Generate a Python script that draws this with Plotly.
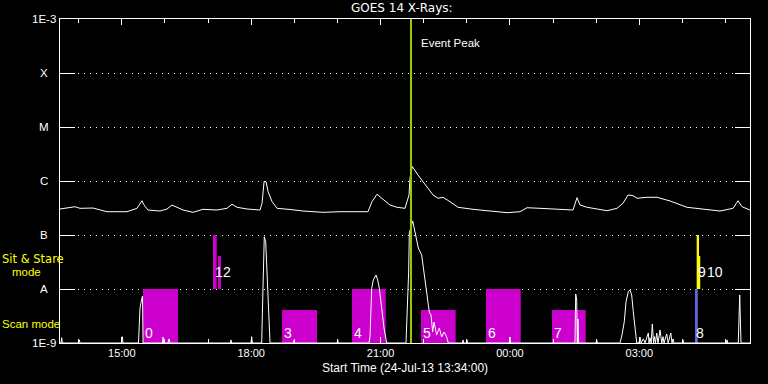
import math
import pandas as pd
import plotly.graph_objects as go

START = pd.Timestamp("2013-07-24 13:34:00")
SPAN_MIN = 960  # 16 hours shown

# ---- GOES 14 long channel (1-8 A), minutes after start, W/m^2
long_t = [0, 13.9, 20.9, 27.8, 45.9, 65.4, 93.2, 107.1, 111.3, 114.1, 116.9, 122.4,
          139.1, 148.9, 155.8, 162.8, 171.1, 185.0, 199.0, 218.4, 232.4, 239.3, 246.3,
          260.2, 278.3, 281.1, 283.9, 286.7, 289.5, 295.1, 302.0, 320.0, 338.2, 365.9,
          389.6, 428.5, 434.1, 441.0, 448.0, 459.1, 468.9, 480.0, 482.8, 485.6, 487.0,
          490.2, 498.1, 510.6, 519.0, 525.9, 532.9, 542.6, 553.7, 574.6, 598.3, 621.9,
          640.0, 649.7, 667.8, 691.5, 713.8, 719.3, 723.5, 733.3, 761.0, 774.9, 783.3,
          790.3, 797.2, 802.8, 816.7, 830.6, 848.7, 872.3, 894.6, 918.3, 936.4, 943.3,
          948.9, 960]
long_f = [3.03e-7, 3.26e-7, 3.34e-7, 3.12e-7, 3.16e-7, 2.70e-7, 2.70e-7, 3.12e-7, 3.86e-7,
          4.31e-7, 3.59e-7, 2.90e-7, 2.78e-7, 3.03e-7, 3.59e-7, 3.26e-7, 2.90e-7, 2.63e-7,
          2.99e-7, 2.90e-7, 3.12e-7, 3.71e-7, 3.26e-7, 3.03e-7, 2.90e-7, 3.86e-7, 9.7e-7,
          9.7e-7, 6.34e-7, 4.14e-7, 3.12e-7, 2.97e-7, 2.78e-7, 2.63e-7, 2.70e-7, 2.70e-7,
          4.14e-7, 5.68e-7, 4.79e-7, 3.59e-7, 3.26e-7, 3.12e-7, 4.14e-7, 5.51e-7, 1.14e-6,
          1.85e-6, 1.29e-6, 7.83e-7, 5.51e-7, 4.79e-7, 4.99e-7, 4.14e-7, 3.26e-7, 2.99e-7,
          2.82e-7, 2.59e-7, 2.70e-7, 3.20e-7, 3.12e-7, 3.03e-7, 2.90e-7, 4.91e-7, 3.59e-7,
          3.26e-7, 2.82e-7, 3.12e-7, 3.86e-7, 5.51e-7, 5.35e-7, 4.79e-7, 4.99e-7, 4.99e-7,
          4.27e-7, 3.26e-7, 3.03e-7, 2.78e-7, 3.12e-7, 4.31e-7, 3.34e-7, 2.90e-7]

# ---- GOES 14 short channel (0.5-4 A), minutes after start, W/m^2
short_t = [0, 1.5, 2.4, 3.3,
           26.0, 26.9, 27.8,
           85.8, 86.7, 87.6,
           109.2, 110.3, 111.3, 113.4, 114.8, 115.5,
           142.5, 143.3, 144.2, 150.3, 151.7, 153.0,
           237.0, 237.9, 238.8,
           265.8, 266.7, 267.6,
           280.6, 281.5, 282.9, 284.2, 286.2, 287.6, 289.0, 290.4, 292.2,
           324.7, 325.6, 326.5,
           385.5, 386.4, 387.3,
           429.9, 431.3, 433.7, 435.9, 439.7, 442.0, 444.2, 447.6, 450.8, 454.5,
           481.4, 483.2, 485.1, 486.0, 490.7, 493.9, 498.5, 503.2, 507.8, 511.0,
           513.8, 516.2, 518.5, 520.4, 524.1, 527.7, 531.1, 534.3, 538.0, 540.2,
           559.8, 560.7, 561.6, 565.4, 566.3, 567.2,
           625.2, 626.1, 627.0,
           716.5, 717.5, 718.9, 719.7, 720.7, 721.7,
           745.8, 746.7, 747.6,
           779.1, 781.9, 785.1, 787.5, 790.7, 793.0, 795.4, 797.6, 800.0, 802.4,
           805.6, 807.0, 808.4, 811.6, 814.0, 818.5, 819.5, 820.9, 822.5, 824.1,
           825.8, 826.9, 828.5, 830.2, 832.0, 834.8, 837.2, 839.0, 840.4, 844.1,
           846.1, 849.8, 851.5, 852.9, 854.3,
           865.9, 866.8, 867.7,
           927.1, 928.0, 928.9,
           943.7, 944.7, 945.7, 946.5, 947.5, 960]
short_f = [1e-9, 1e-9, 1.25e-9, 1e-9,
           1e-9, 1.14e-9, 1e-9,
           1e-9, 1.31e-9, 1e-9,
           1e-9, 3.3e-9, 4.45e-9, 6.25e-9, 7.42e-9, 1e-9,
           1e-9, 1.29e-9, 1e-9, 1e-9, 1.19e-9, 1e-9,
           1e-9, 1.14e-9, 1e-9,
           1e-9, 1.31e-9, 1e-9,
           1e-9, 3.3e-9, 4.26e-8, 9.3e-8, 7.5e-8, 2.78e-8, 1.04e-8, 3.3e-9, 1e-9,
           1e-9, 1.14e-9, 1e-9,
           1e-9, 1.14e-9, 1e-9,
           1e-9, 1.31e-9, 1.04e-8, 1.47e-8, 1.82e-8, 1.47e-8, 1.04e-8, 4.45e-9, 1.9e-9, 1e-9,
           1e-9, 4.45e-9, 2.06e-8, 1.09e-7, 1.82e-7, 1.14e-7, 5.74e-8, 4.26e-8, 1.6e-8, 7.74e-9,
           3.75e-9, 3.3e-9, 1.6e-9, 2.45e-9, 1.41e-9, 1.9e-9, 1.29e-9, 1.6e-9, 1.29e-9, 1e-9,
           1e-9, 1.14e-9, 1e-9, 1e-9, 1.14e-9, 1e-9,
           1e-9, 1.29e-9, 1e-9,
           1e-9, 8.08e-9, 6.25e-9, 1e-9, 2.78e-9, 1e-9,
           1e-9, 1.14e-9, 1e-9,
           1e-9, 1.41e-9, 2.48e-9, 5.82e-9, 8.91e-9, 9.58e-9, 7.74e-9, 3.8e-9, 1.9e-9, 1e-9,
           1e-9, 1.29e-9, 1e-9, 1.19e-9, 1e-9, 1.53e-9, 1e-9, 1.25e-9, 1e-9, 2.25e-9,
           1e-9, 1.31e-9, 1e-9, 1.53e-9, 1e-9, 1.74e-9, 1e-9, 1.31e-9, 1e-9, 1.47e-9,
           1e-9, 1.53e-9, 1e-9, 1.19e-9, 1e-9,
           1e-9, 1.14e-9, 1e-9,
           1e-9, 1.14e-9, 1e-9,
           1e-9, 2.9e-9, 7.74e-9, 2.9e-9, 1e-9, 1e-9]

# ---- observation blocks (minutes after start)
obs_label = ["0", "1", "2", "3", "4", "5", "6", "7", "8", "9", "10"]
obs_start = [115.5, 212.9, 219.8, 308.9, 406.3, 502.3, 592.7, 684.5, 883.5, 885.8, 888.8]
obs_end = [164.2, 218.0, 224.0, 357.6, 453.2, 550.5, 641.0, 731.4, 887.3, 889.0, 890.8]
obs_low = [1e-9, 1e-8, 1e-8, 1e-9, 1e-9, 1e-9, 1e-9, 1e-9, 1e-9, 1e-8, 1e-8]
obs_high = [1e-8, 1e-7, 4.08e-8, 4.08e-9, 1e-8, 4.08e-9, 1e-8, 4.08e-9, 1e-8, 1e-7, 4.08e-8]
obs_mode = ["scan", "sit", "sit", "scan", "scan", "scan", "scan", "scan", "scan", "sit", "sit"]
obs_color = ["#cc00cc"] * 8 + ["#6464e6", "#ffff00", "#ffff00"]
label_shift = [1, 1, 4, 1, 1, 1, 1, 1, 0, 0, 7]

event_peak_min = 488.3

y_ticks = [1e-9, 1e-8, 1e-7, 1e-6, 1e-5, 1e-4, 1e-3]
y_tick_text = ["1E-9", "A", "B", "C", "M", "X", "1E-3"]


def tm(m):
    return START + pd.to_timedelta(m, unit="min")


FONT = "Liberation Sans, Arial, sans-serif"
fig = go.Figure()

# observation blocks
for s, e, lo, hi, c in zip(obs_start, obs_end, obs_low, obs_high, obs_color):
    fig.add_trace(go.Scatter(
        x=[tm(s), tm(e), tm(e), tm(s), tm(s)], y=[lo, lo, hi, hi, lo],
        fill="toself", fillcolor=c, line=dict(width=0, color=c), mode="lines",
        hoverinfo="skip", showlegend=False))

# x-ray curves
fig.add_trace(go.Scatter(x=[tm(m) for m in long_t], y=long_f, mode="lines",
                         line=dict(color="white", width=1), showlegend=False))
fig.add_trace(go.Scatter(x=[tm(m) for m in short_t], y=short_f, mode="lines",
                         line=dict(color="white", width=1), showlegend=False))

# event peak line
fig.add_trace(go.Scatter(x=[tm(event_peak_min), tm(event_peak_min)], y=[1e-9, 1e-3],
                         mode="lines", line=dict(color="#99cc00", width=2), showlegend=False))

ann = []
# obs labels
for lab, s, mode, sh in zip(obs_label, obs_start, obs_mode, label_shift):
    ann.append(dict(x=tm(s), xref="x", y=0.0324 if mode == "scan" else 0.2176, yref="paper",
                    text=lab, showarrow=False, xanchor="left", yanchor="middle", xshift=sh,
                    borderpad=0, font=dict(family=FONT, size=14, color="white")))
# y labels
for v, t in zip(y_ticks, y_tick_text):
    ann.append(dict(x=0, xref="paper", y=math.log10(v), yref="y", text=t, showarrow=False,
                    xanchor="center", yanchor="middle", xshift=-16,
                    font=dict(family=FONT, size=11.5, color="white")))
YEL = dict(family=FONT, size=11.5, color="#ffff00")
ann += [
    dict(x=0.5, xref="paper", y=(343 - 8.5) / 324, yref="paper", text="GOES 14 X-Rays:",
         showarrow=False, xanchor="center", yanchor="middle", xshift=-3,
         font=dict(family="DejaVu Sans", size=12, color="white")),
    dict(x=0.5, xref="paper", y=(343 - 368) / 324, yref="paper",
         text="Start Time (24-Jul-13 13:34:00)", showarrow=False, xanchor="center",
         yanchor="middle", font=dict(family=FONT, size=12, color="white")),
    dict(x=tm(event_peak_min), xref="x", y=(343 - 43) / 324, yref="paper", text="Event Peak",
         showarrow=False, xanchor="left", yanchor="middle", xshift=8,
         font=dict(family=FONT, size=11.5, color="white")),
    dict(x=(1 - 60) / 690, xref="paper", y=(343 - 258.5) / 324, yref="paper", text="Sit & Stare",
         showarrow=False, xanchor="left", yanchor="middle", borderpad=0,
         font=dict(family="DejaVu Sans", size=11.5, color="#ffff00")),
    dict(x=(11 - 60) / 690, xref="paper", y=(343 - 272) / 324, yref="paper", text="mode",
         showarrow=False, xanchor="left", yanchor="middle", borderpad=0, font=YEL),
    dict(x=(1 - 60) / 690, xref="paper", y=(343 - 323.5) / 324, yref="paper", text="Scan mode",
         showarrow=False, xanchor="left", yanchor="middle", borderpad=0, font=YEL),
]

fig.update_layout(
    width=768, height=384,
    margin=dict(l=60, r=18, t=19, b=41),
    paper_bgcolor="black", plot_bgcolor="black",
    annotations=ann,
    xaxis=dict(
        range=[tm(0), tm(SPAN_MIN)], type="date",
        tick0="2013-07-24 15:00:00", dtick=3 * 3600000, tickformat="%H:%M",
        ticks="inside", ticklen=6, tickcolor="white", tickwidth=1,
        minor=dict(dtick=3600000, ticks="inside", ticklen=4, tickcolor="white", tickwidth=1),
        showline=True, linecolor="white", linewidth=1, mirror="ticks",
        showgrid=False, zeroline=False,
        tickfont=dict(family=FONT, size=11, color="white"),
    ),
    yaxis=dict(
        type="log", range=[-9, -3], tickvals=y_ticks, showticklabels=False,
        ticks="inside", ticklen=15, tickcolor="white", tickwidth=1,
        showline=True, linecolor="white", linewidth=1, mirror="ticks",
        showgrid=True, gridcolor="white", gridwidth=1, griddash="1px,5px",
        zeroline=False,
    ),
)

fig.write_html("out.html", config={"displayModeBar": False},
               post_script="document.body.style.margin='0';document.body.style.background='black';")
